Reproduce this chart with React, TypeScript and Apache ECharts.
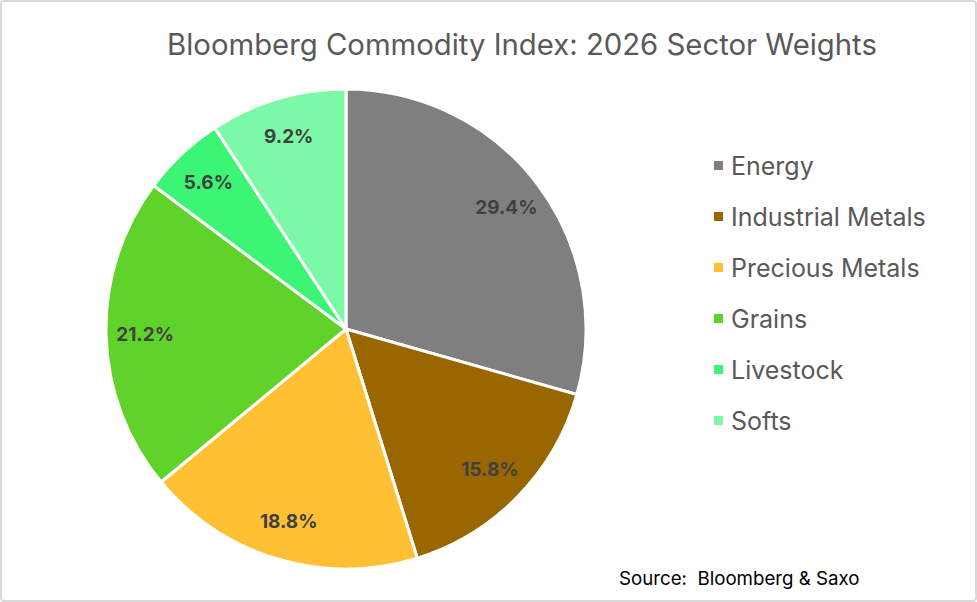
import React, { useEffect, useRef } from "react";
import * as echarts from "echarts";

const categories = ["Energy", "Industrial Metals", "Precious Metals", "Grains", "Livestock", "Softs"];
const weights = [29.4, 15.8, 18.8, 21.2, 5.6, 9.2];
const colors = ["#7f7f7f", "#996600", "#ffc133", "#5fd32a", "#3cf574", "#7cf9a6"];
const titleText = "Bloomberg Commodity Index: 2026 Sector Weights";
const sourceText = "Source:  Bloomberg & Saxo";

export default function App() {
  const ref = useRef<HTMLDivElement>(null);
  useEffect(() => {
    document.body.style.margin = "0";
    const chart = echarts.init(ref.current!, null, { renderer: "svg" });
    const data = categories.map((c, i) => ({ name: c, value: weights[i], itemStyle: { color: colors[i] } }));
    chart.setOption({
      animation: false,
      backgroundColor: "#ffffff",
      textStyle: { fontFamily: "Inter" },
      title: {
        text: titleText,
        left: 517,
        top: 25,
        textAlign: "center",
        textStyle: { fontFamily: "Inter", fontSize: 29.3, fontWeight: "normal", color: "#595959" },
      },
      legend: {
        orient: "vertical",
        left: 712,
        top: 153,
        padding: 0,
        itemWidth: 11,
        itemHeight: 11,
        itemGap: 26,
        icon: "rect",
        data: categories,
        textStyle: { fontFamily: "Inter", fontSize: 25, lineHeight: 25, color: "#595959", padding: [0, 0, 0, 2] },
      },
      series: [
        {
          type: "pie",
          center: [346, 329],
          radius: [0, 240],
          startAngle: 90,
          clockwise: true,
          data,
          label: { show: false },
          labelLine: { show: false },
          itemStyle: { borderColor: "#ffffff", borderWidth: 3 },
          silent: true,
        },
        {
          type: "pie",
          center: [346, 329],
          radius: [156, 240],
          startAngle: 90,
          clockwise: true,
          silent: true,
          data: categories.map((c, i) => ({ name: c, value: weights[i] })),
          itemStyle: { color: "transparent", borderWidth: 0 },
          labelLine: { show: false },
          label: {
            show: true,
            position: "inside",
            formatter: (p: any) => p.value.toFixed(1) + "%",
            fontFamily: "Inter",
            fontSize: 19,
            fontWeight: "bold",
            color: "#404040",
          },
        },
      ],
      graphic: [
        {
          type: "rect",
          shape: { x: 1, y: 1, width: 975, height: 600, r: 3 },
          style: { fill: "none", stroke: "#d9d9d9", lineWidth: 2 },
          silent: true,
        },
        {
          type: "text",
          x: 619,
          y: 578,
          style: { text: sourceText, fontFamily: "Inter", fontSize: 18.7, fill: "#000000", textVerticalAlign: "middle" },
          silent: true,
        },
      ],
    });
    return () => chart.dispose();
  }, []);
  return <div ref={ref} style={{ width: 977, height: 602, position: "absolute", left: 0, top: 0 }} />;
}
